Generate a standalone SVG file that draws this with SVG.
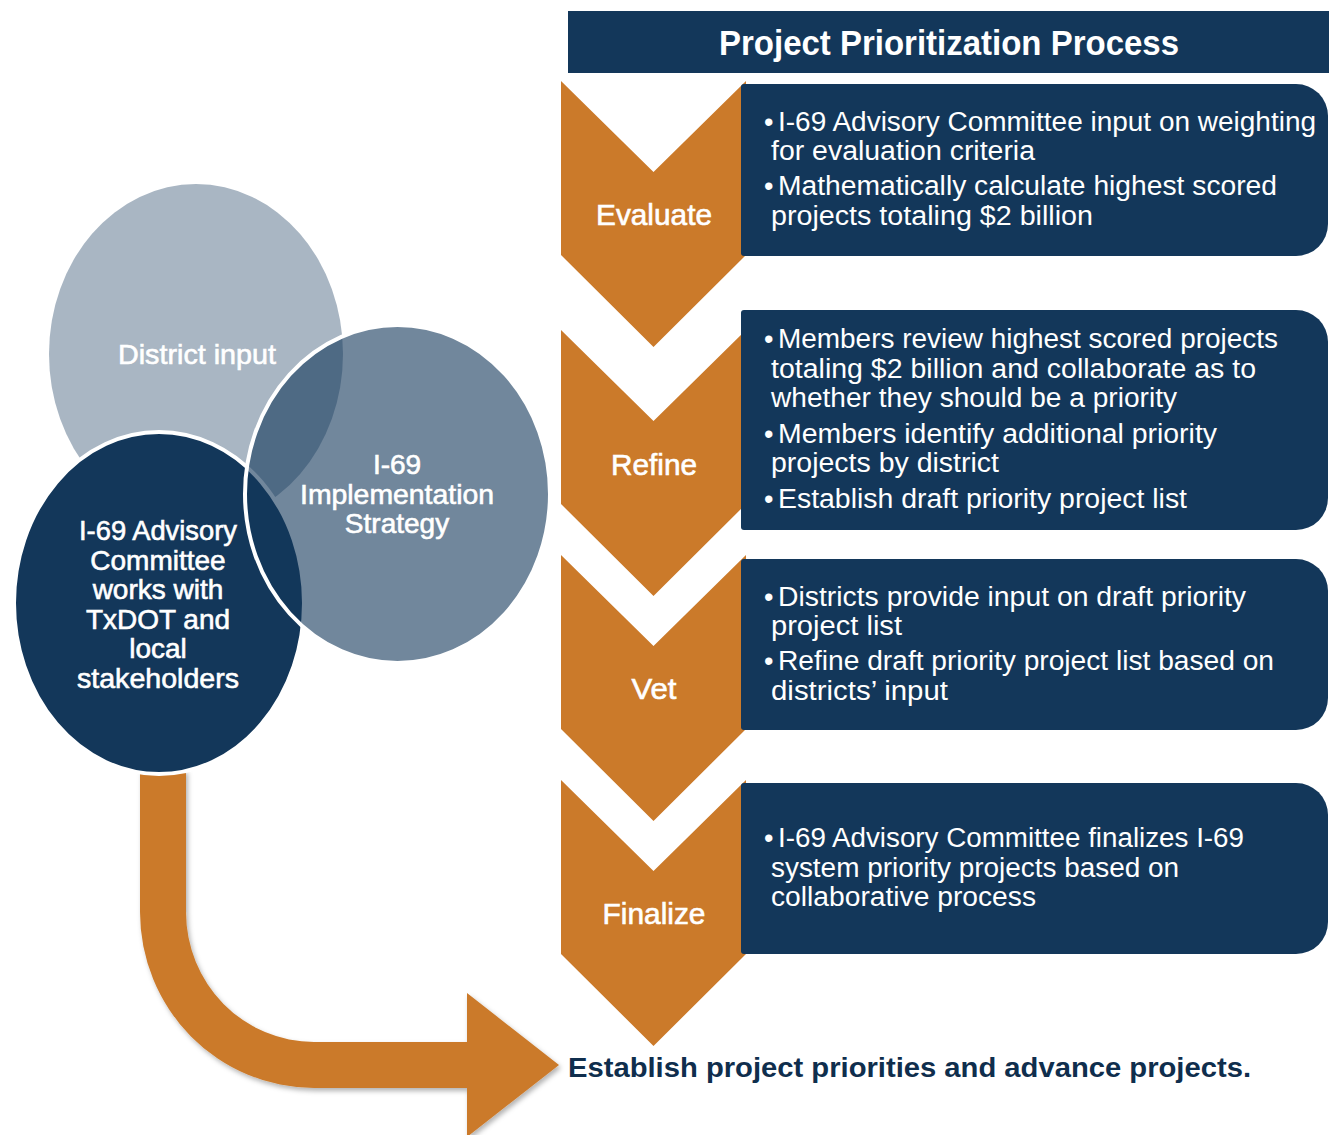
<svg xmlns="http://www.w3.org/2000/svg" width="1329" height="1135" viewBox="0 0 1329 1135">
<defs>
<style>
.navy{fill:#13375A}
.orange{fill:#CB7A2A}
.body{font-family:"Liberation Sans",Arial,sans-serif;font-size:27px;fill:#FFFFFF}
.lbl{font-family:"Liberation Sans",Arial,sans-serif;font-size:29px;fill:#FFFFFF;stroke:#FFFFFF;stroke-width:0.6;text-anchor:middle}
.circ{font-family:"Liberation Sans",Arial,sans-serif;font-size:28px;fill:#FFFFFF;stroke:#FFFFFF;stroke-width:0.6;text-anchor:middle}
.ring{stroke:#FFFFFF;stroke-width:4}
</style>
<filter id="shadow" x="-10%" y="-10%" width="130%" height="130%">
<feDropShadow dx="2" dy="3" stdDeviation="2.5" flood-color="#000000" flood-opacity="0.3"/>
</filter>
</defs>
<rect width="1329" height="1135" fill="#FFFFFF"/>

<g id="connectors">
<path class="orange" filter="url(#shadow)" d="M140,770 L140,912 A174,176 0 0 0 314,1088 L467,1088 L467,1137 L559,1065 L467,993 L467,1042 L314,1042 A128,130 0 0 1 186,912 L186,770 Z"/>
</g>

<g id="venn">
<g id="district-input">
<ellipse cx="196" cy="354" rx="147" ry="170" fill="#A9B6C3"/>
</g>
<g id="advisory-committee">
<ellipse class="navy ring" cx="159" cy="603" rx="145" ry="171"/>
</g>
<g id="implementation-strategy">
<ellipse class="ring" cx="397.5" cy="494" rx="152.5" ry="169" fill="#13375A" fill-opacity="0.6"/>
</g>
<text class="circ" x="197" y="364" textLength="158" lengthAdjust="spacingAndGlyphs">District input</text>
<text class="circ" x="397" y="474">I-69</text>
<text class="circ" x="397" y="504" textLength="194" lengthAdjust="spacingAndGlyphs">Implementation</text>
<text class="circ" x="397" y="533">Strategy</text>
<text class="circ" x="158" y="540" textLength="158" lengthAdjust="spacingAndGlyphs">I-69 Advisory</text>
<text class="circ" x="158" y="569.6">Committee</text>
<text class="circ" x="158" y="599.2">works with</text>
<text class="circ" x="158" y="628.8">TxDOT and</text>
<text class="circ" x="158" y="658.4">local</text>
<text class="circ" x="158" y="688" textLength="162" lengthAdjust="spacingAndGlyphs">stakeholders</text>
</g>

<g id="header">
<rect class="navy" x="568" y="11" width="761" height="62"/>
<text x="949" y="55" text-anchor="middle" font-family="Liberation Sans, Arial, sans-serif" font-weight="bold" font-size="35" fill="#FFFFFF" textLength="460" lengthAdjust="spacingAndGlyphs">Project Prioritization Process</text>
</g>

<g id="evaluate">
<path class="orange" d="M561,81 L653.5,172 L746,81 L746,255 L653.5,347 L561,255 Z"/>
<path class="navy" d="M744,84 H1296 A32,32 0 0 1 1328,116 V224 A32,32 0 0 1 1296,256 H744 A3,3 0 0 1 741,253 V87 A3,3 0 0 1 744,84 Z"/>
<text class="lbl" x="654" y="225" textLength="116" lengthAdjust="spacingAndGlyphs">Evaluate</text>
<text class="body" x="764" y="131">•</text>
<text class="body" x="778" y="131" textLength="538" lengthAdjust="spacingAndGlyphs">I-69 Advisory Committee input on weighting</text>
<text class="body" x="771" y="160" textLength="264" lengthAdjust="spacingAndGlyphs">for evaluation criteria</text>
<text class="body" x="764" y="195">•</text>
<text class="body" x="778" y="195" textLength="499" lengthAdjust="spacingAndGlyphs">Mathematically calculate highest scored</text>
<text class="body" x="771" y="225" textLength="322" lengthAdjust="spacingAndGlyphs">projects totaling $2 billion</text>
</g>

<g id="refine">
<path class="orange" d="M561,330 L653.5,421 L746,330 L746,504 L653.5,596 L561,504 Z"/>
<path class="navy" d="M744,310 H1296 A32,32 0 0 1 1328,342 V498 A32,32 0 0 1 1296,530 H744 A3,3 0 0 1 741,527 V313 A3,3 0 0 1 744,310 Z"/>
<text class="lbl" x="654" y="475" textLength="86" lengthAdjust="spacingAndGlyphs">Refine</text>
<text class="body" x="764" y="348">•</text>
<text class="body" x="778" y="348" textLength="500" lengthAdjust="spacingAndGlyphs">Members review highest scored projects</text>
<text class="body" x="771" y="378" textLength="485" lengthAdjust="spacingAndGlyphs">totaling $2 billion and collaborate as to</text>
<text class="body" x="771" y="407" textLength="406" lengthAdjust="spacingAndGlyphs">whether they should be a priority</text>
<text class="body" x="764" y="443">•</text>
<text class="body" x="778" y="443" textLength="439" lengthAdjust="spacingAndGlyphs">Members identify additional priority</text>
<text class="body" x="771" y="472" textLength="228" lengthAdjust="spacingAndGlyphs">projects by district</text>
<text class="body" x="764" y="508">•</text>
<text class="body" x="778" y="508" textLength="409" lengthAdjust="spacingAndGlyphs">Establish draft priority project list</text>
</g>

<g id="vet">
<path class="orange" d="M561,555 L653.5,646 L746,555 L746,729 L653.5,821 L561,729 Z"/>
<path class="navy" d="M744,559 H1296 A32,32 0 0 1 1328,591 V698 A32,32 0 0 1 1296,730 H744 A3,3 0 0 1 741,727 V562 A3,3 0 0 1 744,559 Z"/>
<text class="lbl" x="654" y="699" textLength="45" lengthAdjust="spacingAndGlyphs">Vet</text>
<text class="body" x="764" y="606">•</text>
<text class="body" x="778" y="606" textLength="468" lengthAdjust="spacingAndGlyphs">Districts provide input on draft priority</text>
<text class="body" x="771" y="635" textLength="131" lengthAdjust="spacingAndGlyphs">project list</text>
<text class="body" x="764" y="670">•</text>
<text class="body" x="778" y="670" textLength="496" lengthAdjust="spacingAndGlyphs">Refine draft priority project list based on</text>
<text class="body" x="771" y="700" textLength="177" lengthAdjust="spacingAndGlyphs">districts’ input</text>
</g>

<g id="finalize">
<path class="orange" d="M561,780 L653.5,871 L746,780 L746,954 L653.5,1046 L561,954 Z"/>
<path class="navy" d="M744,783 H1296 A32,32 0 0 1 1328,815 V922 A32,32 0 0 1 1296,954 H744 A3,3 0 0 1 741,951 V786 A3,3 0 0 1 744,783 Z"/>
<text class="lbl" x="654" y="924" textLength="103" lengthAdjust="spacingAndGlyphs">Finalize</text>
<text class="body" x="764" y="847">•</text>
<text class="body" x="778" y="847" textLength="466" lengthAdjust="spacingAndGlyphs">I-69 Advisory Committee finalizes I-69</text>
<text class="body" x="771" y="877" textLength="408" lengthAdjust="spacingAndGlyphs">system priority projects based on</text>
<text class="body" x="771" y="906" textLength="265" lengthAdjust="spacingAndGlyphs">collaborative process</text>
</g>

<g id="outcome">
<text x="568" y="1077" font-family="Liberation Sans, Arial, sans-serif" font-weight="bold" font-size="28" fill="#0F2E4D" textLength="683" lengthAdjust="spacingAndGlyphs">Establish project priorities and advance projects.</text>
</g>
</svg>
